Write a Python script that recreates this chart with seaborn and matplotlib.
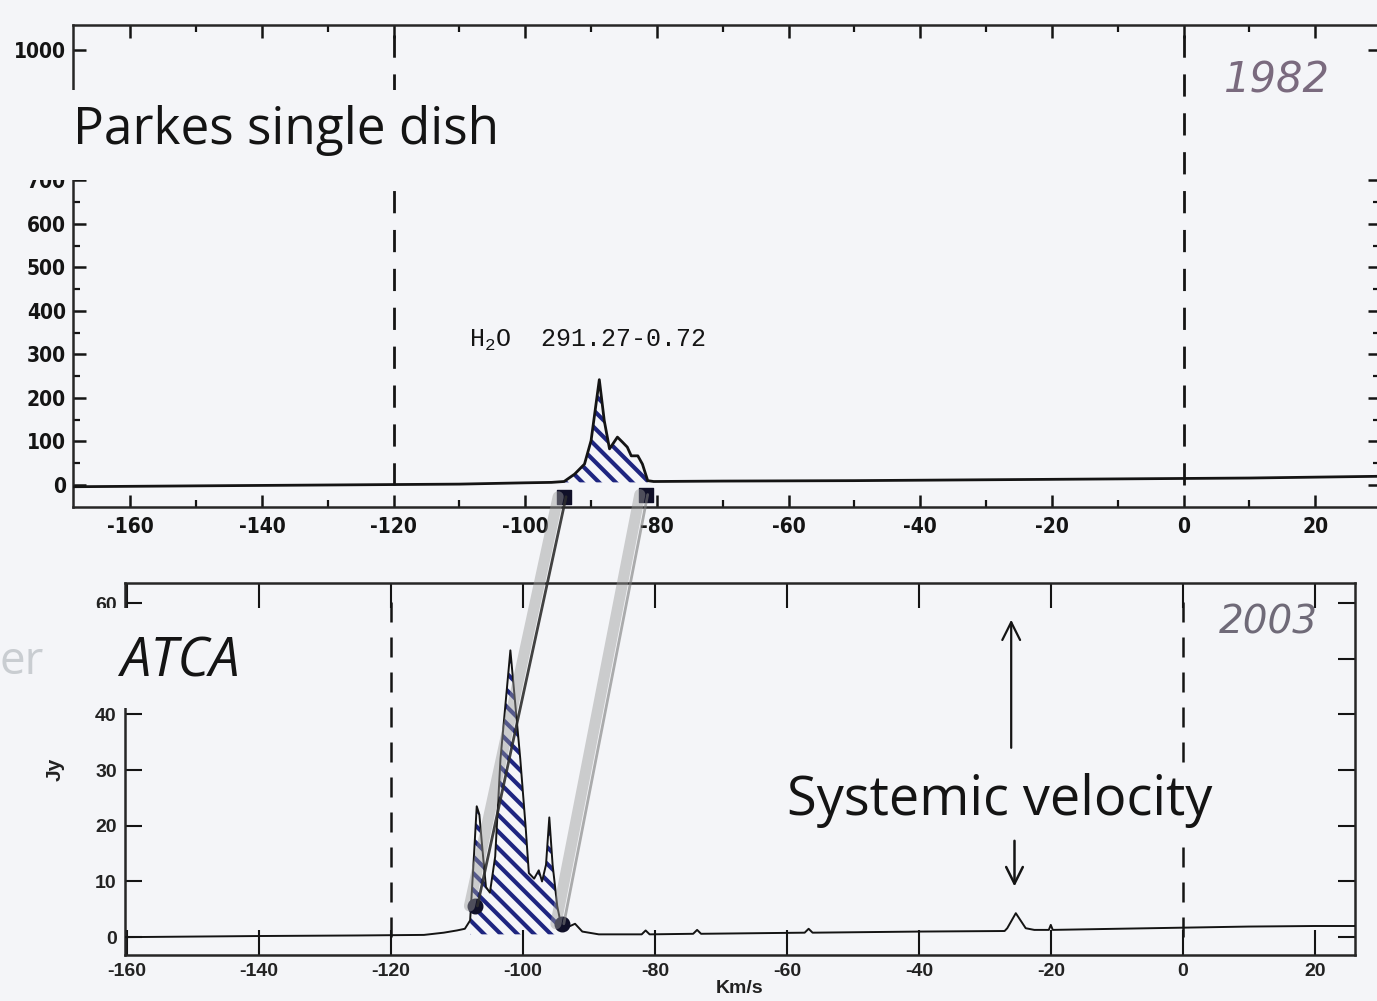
import numpy as np
import pandas as pd
import matplotlib
matplotlib.use("Agg")
import matplotlib.pyplot as plt
from matplotlib.patches import Rectangle, ConnectionPatch
import seaborn as sns

# ---- 1982 Parkes single-dish H2O spectrum (velocity km/s, flux Jy) ----
parkes_vel = [-168.7, -150, -130, -110, -100, -96, -94.1, -92.5, -91.0, -90.0,
              -88.75, -88.0, -87.2, -86.0, -85.2, -84.5, -83.9, -82.9, -82.2,
              -81.4, -80.5, -70, -50, -30, -10, 10, 29.8]
parkes_flux = [-4, -2, 0, 2, 5, 6, 8, 25, 48, 102,
               242, 148, 83, 110, 98, 87, 67, 67, 48,
               10, 8, 9, 10, 12, 14, 16, 20]
parkes_window = (-94.1, -81.4)

# ---- 2003 ATCA spectrum ----
atca_vel = [-160.3, -140, -125, -115, -112, -110, -108.8, -108.0, -107.4, -107.0,
            -106.6, -106.0, -105.6, -105.0, -104.2, -103.4, -101.9, -100.4, -99.6,
            -99.1, -98.3, -97.6, -97.1, -96.5, -96.0, -95.5, -94.8, -94.1, -93.2,
            -92.1, -91.0, -88.5, -82.0, -81.4, -80.8, -74.2, -73.6, -73.0, -57.3,
            -56.7, -56.1, -40, -27.0, -26.6, -25.3, -23.8, -22.5, -20.3, -20.0,
            -19.7, -10, 0, 10, 20, 26.1]
atca_flux = [0.0, 0.2, 0.3, 0.4, 0.8, 1.2, 1.5, 3.0, 15.0, 23.5,
             22.0, 14.0, 9.0, 8.0, 14.5, 32.0, 51.5, 32.0, 20.0,
             11.5, 10.5, 12.0, 10.0, 13.0, 21.5, 13.0, 5.6, 1.5, 1.8,
             2.4, 1.0, 0.5, 0.5, 1.2, 0.5, 0.6, 1.3, 0.6, 0.8,
             1.5, 0.8, 1.0, 1.1, 1.6, 4.3, 1.6, 1.3, 1.3, 2.2,
             1.3, 1.5, 1.7, 1.9, 2.0, 2.0]
atca_window = (-108.0, -94.1)

# velocity shift of the maser features between the two epochs
link_top_vel = [-94.1, -81.7]
link_top_flux = [-27, -22]
link_bot_vel = [-107.2, -94.1]
link_bot_flux = [5.6, 2.4]

ref_velocities = [-120, 0]
systemic_vel = -26.0

top_xticks = list(range(-160, 21, 20))
top_yticks = [0, 100, 200, 300, 400, 500, 600, 700, 1000]
bot_xticks = list(range(-160, 21, 20))
bot_yticks = [0, 10, 20, 30, 40, 50, 60]

BG = "#f4f5f8"
INK = "#141414"
NAVY = "#1e2580"

sns.set_theme(style="ticks")
plt.rcParams.update({
    "font.family": ["DejaVu Sans"],
    "hatch.linewidth": 3.0,
    "axes.linewidth": 1.8,
    "axes.unicode_minus": False,
    "figure.facecolor": BG,
    "axes.facecolor": BG,
})

fig = plt.figure(figsize=(13.77, 10.01), dpi=100)
ax_top = fig.add_axes([0.0530, 0.4935, 0.949, 0.4815])
ax_bot = fig.add_axes([0.0908, 0.0460, 0.8932, 0.3716])

top = pd.DataFrame({"vel": parkes_vel, "flux": parkes_flux})
bot = pd.DataFrame({"vel": atca_vel, "flux": atca_flux})

# ---------------- upper panel ----------------
sns.lineplot(data=top, x="vel", y="flux", ax=ax_top, color=INK, lw=2.0,
             sort=False, estimator=None, zorder=3)
mask = (top.vel >= parkes_window[0]) & (top.vel <= parkes_window[1])
ax_top.fill_between(top.vel[mask], top.flux[mask], 6, facecolor="none",
                    edgecolor=NAVY, hatch="\\\\", linewidth=0, zorder=2)
ax_top.set_xlim(-168.7, 29.8)
ax_top.set_ylim(-50.6, 1057)
ax_top.set_xticks(top_xticks)
ax_top.set_xticks(np.arange(-160, 30, 10), minor=True)
ax_top.set_yticks(top_yticks)
ax_top.set_yticks(np.arange(50, 700, 100), minor=True)
ax_top.tick_params(axis="both", which="major", direction="in", length=9, width=1.8,
                   top=True, right=True, color=INK)
ax_top.tick_params(axis="both", which="minor", direction="in", length=5, width=1.6,
                   top=True, right=True, color=INK)
for lab in ax_top.get_xticklabels() + ax_top.get_yticklabels():
    lab.set_fontsize(15)
    lab.set_fontweight("bold")
    lab.set_fontstretch("condensed")
    lab.set_color(INK)
ax_top.tick_params(axis="x", pad=7)
ax_top.tick_params(axis="y", pad=5)
ax_top.set_xlabel("")
ax_top.set_ylabel("")
for v in ref_velocities:
    ax_top.plot([v, v], [0, 1050], color=INK, lw=2.0, ls=(0, (8, 6)), zorder=1)
ax_top.text(-108.5, 333, r"$\mathregular{H_2O}$  291.27-0.72", fontsize=18,
            family="Liberation Mono", color=INK, ha="left", va="center")

# ---------------- lower panel ----------------
sns.lineplot(data=bot, x="vel", y="flux", ax=ax_bot, color=INK, lw=1.4,
             sort=False, estimator=None, zorder=3)
maskb = (bot.vel >= atca_window[0]) & (bot.vel <= atca_window[1])
ax_bot.fill_between(bot.vel[maskb], bot.flux[maskb], 0.5, facecolor="none",
                    edgecolor=NAVY, hatch="\\\\", linewidth=0, zorder=2)
ax_bot.set_xlim(-160.3, 26.1)
ax_bot.set_ylim(-3.2, 63.6)
ax_bot.set_xticks(bot_xticks)
ax_bot.set_yticks(bot_yticks)
ax_bot.tick_params(axis="x", which="major", width=1.5, color=INK, pad=6)
ax_bot.tick_params(axis="x", which="major", top=True, direction="inout", length=28)
ax_bot.tick_params(axis="x", which="major", bottom=True, direction="in", length=18)
ax_bot.tick_params(axis="y", which="major", direction="in", length=12, width=1.5,
                   right=True, color=INK, pad=6)
for lab in ax_bot.get_xticklabels() + ax_bot.get_yticklabels():
    lab.set_fontsize(14)
    lab.set_fontweight("bold")
    lab.set_family("Liberation Sans")
    lab.set_color("#222222")
ax_bot.set_xlabel("Km/s", fontsize=14, fontweight="bold", family="Liberation Sans",
                  labelpad=0, color="#222222")
ax_bot.set_ylabel("Jy", fontsize=15, fontweight="bold", family="Liberation Sans",
                  labelpad=22, color="#222222")
for v in ref_velocities:
    ax_bot.plot([v, v], [0, 61], color=INK, lw=1.8, ls=(0, (8, 6)), zorder=1)

ax_bot.annotate("", xy=(systemic_vel, 57.5), xytext=(systemic_vel, 33.5),
                arrowprops=dict(arrowstyle="->", lw=1.6, color=INK, mutation_scale=32))
ax_bot.annotate("", xy=(systemic_vel + 0.5, 8.6), xytext=(systemic_vel + 0.5, 17.8),
                arrowprops=dict(arrowstyle="->", lw=1.8, color=INK, mutation_scale=30))
ax_bot.text(-27.7, 24.5, "Systemic velocity", fontsize=39, family="Open Sans",
            color=INK, ha="center", va="center", zorder=4,
            bbox=dict(boxstyle="square,pad=0.15", facecolor=BG, edgecolor="none"))

# pencil strokes joining the features of the two epochs
for i, (va, fa, vb, fb) in enumerate(zip(link_top_vel, link_top_flux,
                                         link_bot_vel, link_bot_flux)):
    strokes = [(8, "#9a9a9a", 0.45, -0.9)]
    strokes.append((2.0, "#2e2e2e", 0.9, 0.3) if i == 0 else (2.0, "#7a7a7a", 0.6, 0.3))
    for lw, col, alpha, dx in strokes:
        cp = ConnectionPatch(xyA=(va + dx, fa), coordsA=ax_top.transData,
                             xyB=(vb + dx, fb), coordsB=ax_bot.transData,
                             color=col, lw=lw, alpha=alpha, zorder=5)
        fig.add_artist(cp)
ax_top.scatter(link_top_vel, link_top_flux, s=90, color="#101028", marker="s",
               zorder=6, clip_on=False)
ax_bot.scatter(link_bot_vel, link_bot_flux, s=110, color="#101028", zorder=6,
               clip_on=False)

# pasted label areas
fig.add_artist(Rectangle((0.0, 0.8202), 0.374, 0.0898, transform=fig.transFigure,
                         facecolor=BG, edgecolor="none", zorder=4))
fig.add_artist(Rectangle((0.0, 0.2927), 0.218, 0.0999, transform=fig.transFigure,
                         facecolor=BG, edgecolor="none", zorder=4))

fig.text(0.053, 0.870, "Parkes single dish", fontsize=37, family="Open Sans",
         color=INK, ha="left", va="center", zorder=6)
fig.text(0.087, 0.339, "ATCA", fontsize=39, family="Open Sans", style="italic",
         color=INK, ha="left", va="center", zorder=6)
fig.text(0.0, 0.339, "er", fontsize=33, family="Open Sans", color="#c9cdd1",
         ha="left", va="center", zorder=6)
fig.text(0.927, 0.920, "1982", fontsize=30, family="DejaVu Sans", style="italic",
         fontweight="light", color="#7a6a7e", ha="center", va="center", zorder=6)
fig.text(0.921, 0.378, "2003", fontsize=28, family="DejaVu Sans", style="italic",
         fontweight="light", color="#6f6a78", ha="center", va="center", zorder=6)

fig.savefig("out.png", dpi=100, facecolor=BG)
